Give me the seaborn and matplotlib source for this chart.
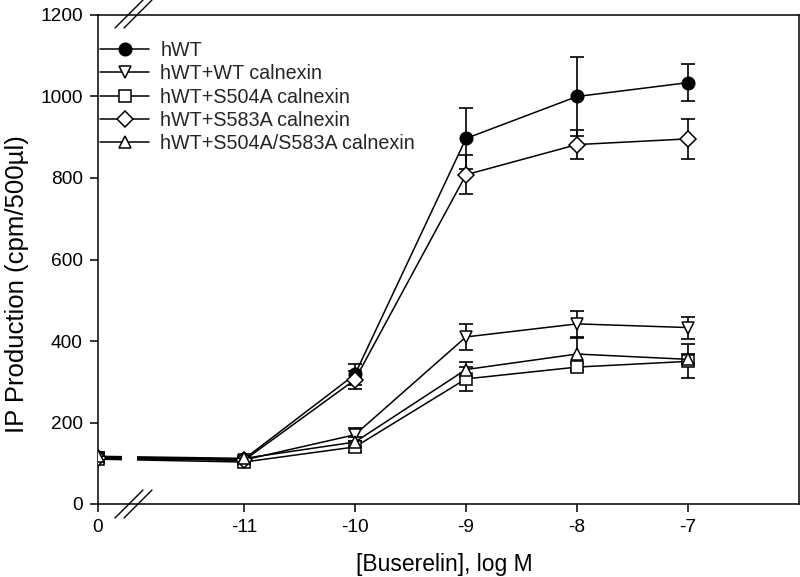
import numpy as np
import pandas as pd
import matplotlib
matplotlib.use("Agg")
import matplotlib.pyplot as plt
import seaborn as sns
from matplotlib.lines import Line2D
from matplotlib.patches import Rectangle

# ---------------- data ----------------
x_labels = ["0", "-11", "-10", "-9", "-8", "-7"]
x_pos = [-12.315, -11, -10, -9, -8, -7]   # "0" sits at the broken left edge

hWT = [115, 110, 318, 897, 1000, 1034]
hWT_err = [8, 6, 25, 76, 97, 45]
wt_cnx = [112, 108, 170, 410, 442, 433]
wt_cnx_err = [10, 6, 16, 32, 32, 27]
s504a = [110, 103, 140, 307, 336, 350]
s504a_err = [10, 5, 12, 30, 10, 42]
s583a = [113, 107, 305, 808, 882, 896]
s583a_err = [8, 6, 22, 48, 36, 50]
s504a_s583a = [117, 112, 152, 330, 368, 355]
s504a_s583a_err = [10, 5, 12, 18, 40, 12]

series_names = ["hWT", "hWT+WT calnexin", "hWT+S504A calnexin",
                "hWT+S583A calnexin", "hWT+S504A/S583A calnexin"]
series_vals = [hWT, wt_cnx, s504a, s583a, s504a_s583a]
series_errs = [hWT_err, wt_cnx_err, s504a_err, s583a_err, s504a_s583a_err]
markers = ["o", "v", "s", "D", "^"]
msizes = [9, 9, 8, 8, 9]
faces = ["black", "white", "white", "white", "white"]

y_ticks = [0, 200, 400, 600, 800, 1000, 1200]

# ---------------- plot ----------------
sns.set_theme(style="ticks")
plt.rcParams["font.family"] = ["Liberation Sans", "DejaVu Sans"]

fig = plt.figure(figsize=(8, 5.77), dpi=100)
ax = fig.add_axes([98 / 800, 1 - 504 / 577, (799 - 98) / 800, (504 - 15) / 577])

for name, vals, errs, mk, ms, fc in zip(series_names, series_vals, series_errs,
                                         markers, msizes, faces):
    df = pd.DataFrame({"x": x_pos, "y": vals})
    ax.errorbar(df["x"], df["y"], yerr=errs, fmt="none", ecolor="black",
                elinewidth=1.2, capsize=5, capthick=1.2, zorder=2)
    sns.lineplot(data=df, x="x", y="y", ax=ax, color="black", lw=1.1,
                 marker=mk, markersize=ms, markerfacecolor=fc,
                 markeredgecolor="black", markeredgewidth=1.1,
                 label=name, zorder=3, sort=False)

# gap in the data lines at the axis break
px2x = lambda px: -11 + (px - 244) / 111.0
ax.add_patch(Rectangle((px2x(122), 60), px2x(137) - px2x(122), 120,
                       facecolor="white", edgecolor="none", zorder=3.5))

ax.set_xlim(-12.315, -6.0)
ax.set_ylim(0, 1200)
ax.set_xticks(x_pos)
ax.set_xticklabels(x_labels)
ax.set_yticks(y_ticks)
ax.set_yticklabels([str(v) for v in y_ticks])
ax.tick_params(axis="both", direction="out", length=6, width=1.1,
               labelsize=13.8, color="black", labelcolor="black")
ax.tick_params(axis="y", pad=5)
ax.tick_params(axis="x", pad=5)
for s in ax.spines.values():
    s.set_visible(True)
    s.set_color("black")
    s.set_linewidth(1.1)

ax.set_xlabel("[Buserelin], log M", fontsize=16.5, color="black")
ax.set_ylabel("IP Production (cpm/500µl)", fontsize=18.5, color="black")
ax.xaxis.set_label_coords(0.494, -0.1)
ax.yaxis.set_label_coords(-0.0984, 0.45)
ax.grid(False)

leg = ax.legend(loc="upper left", bbox_to_anchor=(100 / 800, 1 - 41 / 577),
                bbox_transform=fig.transFigure, frameon=False, fontsize=14.2,
                handlelength=2.5, handletextpad=0.55, labelspacing=0.22,
                borderpad=0, borderaxespad=0)

# break marks "//" on top and bottom spines
def slash(x0, y0, x1, y1):
    fig.add_artist(Line2D([x0 / 800, x1 / 800], [1 - y0 / 577, 1 - y1 / 577],
                          color="black", lw=1.0, transform=fig.transFigure,
                          clip_on=False))

for dx in (0, 9):
    slash(115 + dx, 518, 143 + dx, 490)
    slash(115 + dx, 28, 143 + dx, 0)

fig.savefig("out.png", dpi=100, facecolor="white")
